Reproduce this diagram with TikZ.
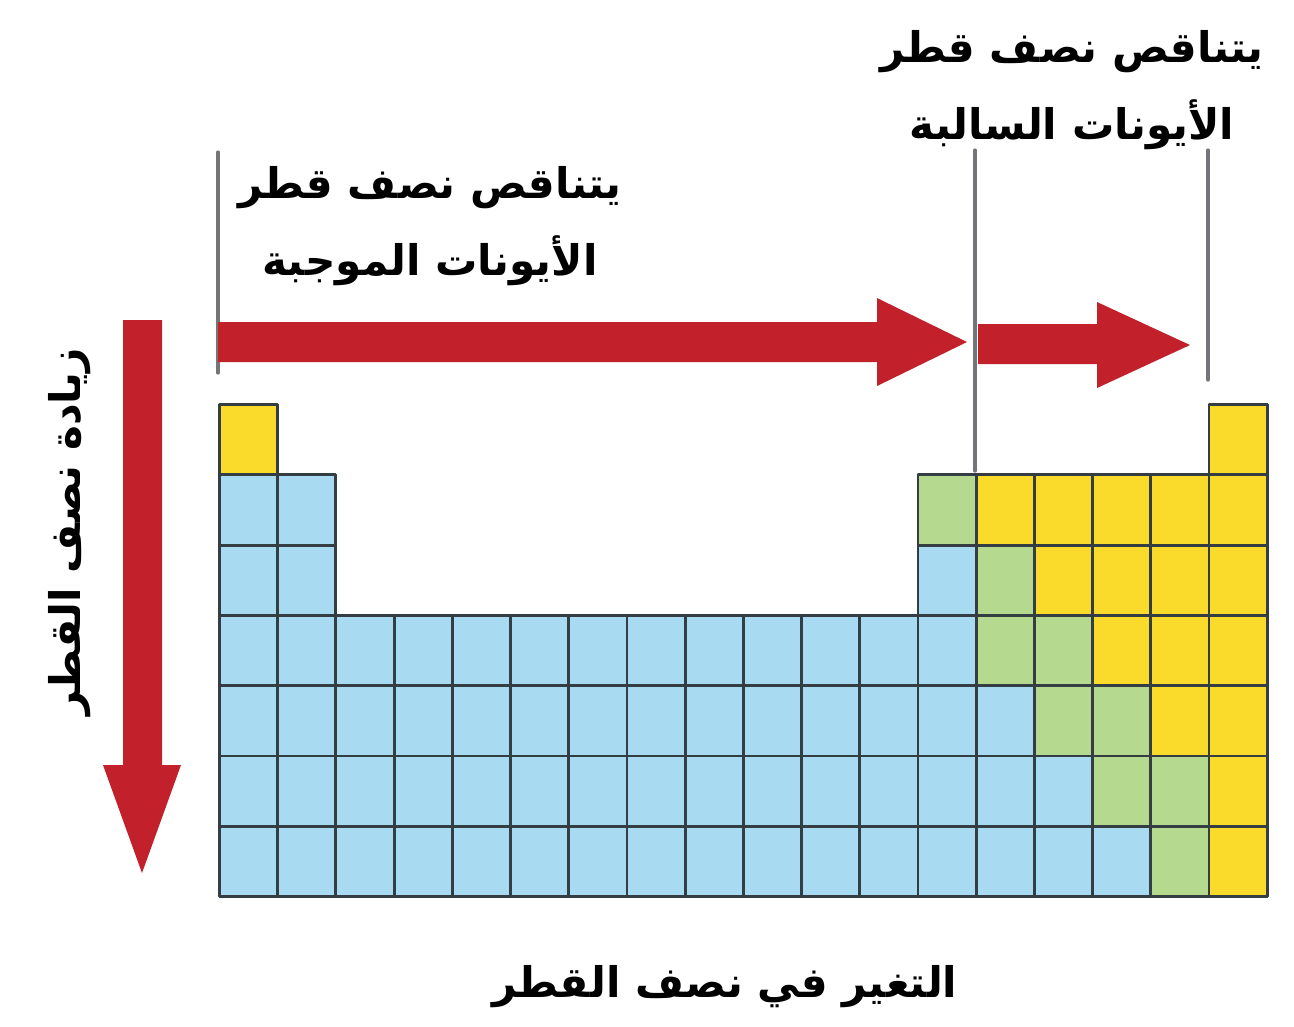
\documentclass[tikz,border=0pt]{standalone}
\usepackage{fontspec}
\usepackage{xcolor}
\TeXXeTstate=1
\newfontfamily\arabicfont[Script=Arabic]{DejaVu Sans}
\definecolor{ccqqbb}{rgb}{0.76,0.13,0.17}
\definecolor{aaddff}{rgb}{0.66,0.86,0.95}
\definecolor{ffddqq}{rgb}{0.98,0.86,0.17}
\definecolor{bbddaa}{rgb}{0.71,0.85,0.56}
\definecolor{qqwwww}{rgb}{0.20,0.24,0.26}
\definecolor{ttttww}{rgb}{0.45,0.46,0.47}
\tikzset{
  cell/.style={draw=qqwwww,line width=0.8pt},
  guide/.style={draw=ttttww,line width=0.9pt},
  label/.style={font=\arabicfont\bfseries\fontsize{12}{22}\selectfont,align=center,inner sep=0pt}
}

\begin{document}
\begin{tikzpicture}[line cap=round,line join=round,x=0.01cm,y=-0.01cm]
    \useasboundingbox (0,0) rectangle (1294,1026);
    % table cells
    \foreach \c/\r in {1/2,2/2,1/3,2/3,13/3,13/4,13/5,14/5,13/6,14/6,15/6,13/7,14/7,15/7,16/7}
        \draw[cell,fill=aaddff] ({219.5+(\c-1)*58.2},{404.5+(\r-1)*70.3}) rectangle ++(58.2,70.3);
    \foreach \r in {4,...,7}
        \foreach \c in {1,...,12}
            \draw[cell,fill=aaddff] ({219.5+(\c-1)*58.2},{404.5+(\r-1)*70.3}) rectangle ++(58.2,70.3);
    \foreach \c/\r in {13/2,14/3,14/4,15/4,15/5,16/5,16/6,17/6,17/7}
        \draw[cell,fill=bbddaa] ({219.5+(\c-1)*58.2},{404.5+(\r-1)*70.3}) rectangle ++(58.2,70.3);
    \foreach \c/\r in {1/1,18/1,14/2,15/2,16/2,17/2,18/2,15/3,16/3,17/3,18/3,16/4,17/4,18/4,17/5,18/5,18/6,18/7}
        \draw[cell,fill=ffddqq] ({219.5+(\c-1)*58.2},{404.5+(\r-1)*70.3}) rectangle ++(58.2,70.3);
    % guide lines
    \coordinate (g1a) at (218,152);
    \coordinate (g1b) at (218,373);
    \coordinate (g2a) at (975,150);
    \coordinate (g2b) at (975,471);
    \coordinate (g3a) at (1208,150);
    \coordinate (g3b) at (1208,380);
    \draw[guide] (g1a) -- (g1b);
    \draw[guide] (g2a) -- (g2b);
    \draw[guide] (g3a) -- (g3b);
    % red arrows
    \fill[ccqqbb] (218,322) -- (877,322) -- (877,298) -- (967,342) -- (877,386) -- (877,362) -- (218,362) -- cycle;
    \fill[ccqqbb] (978,324) -- (1097,324) -- (1097,302) -- (1190,345) -- (1097,388) -- (1097,364) -- (978,364) -- cycle;
    \fill[ccqqbb] (123,320) -- (162,320) -- (162,765) -- (181,765) -- (142,873) -- (103,765) -- (123,765) -- cycle;
    % texts
    \node[label] (cation) at (430,226) {\beginR يتناقص نصف قطر\endR\\\beginR الأيونات الموجبة\endR};
    \node[label] (anion) at (1072,90) {\beginR يتناقص نصف قطر\endR\\\beginR الأيونات السالبة\endR};
    \node[label,rotate=90] (group) at (70,532) {\beginR زيادة نصف القطر\endR};
    \node[label] (period) at (725,987) {\beginR التغير في نصف القطر\endR};
\end{tikzpicture}
\end{document}
